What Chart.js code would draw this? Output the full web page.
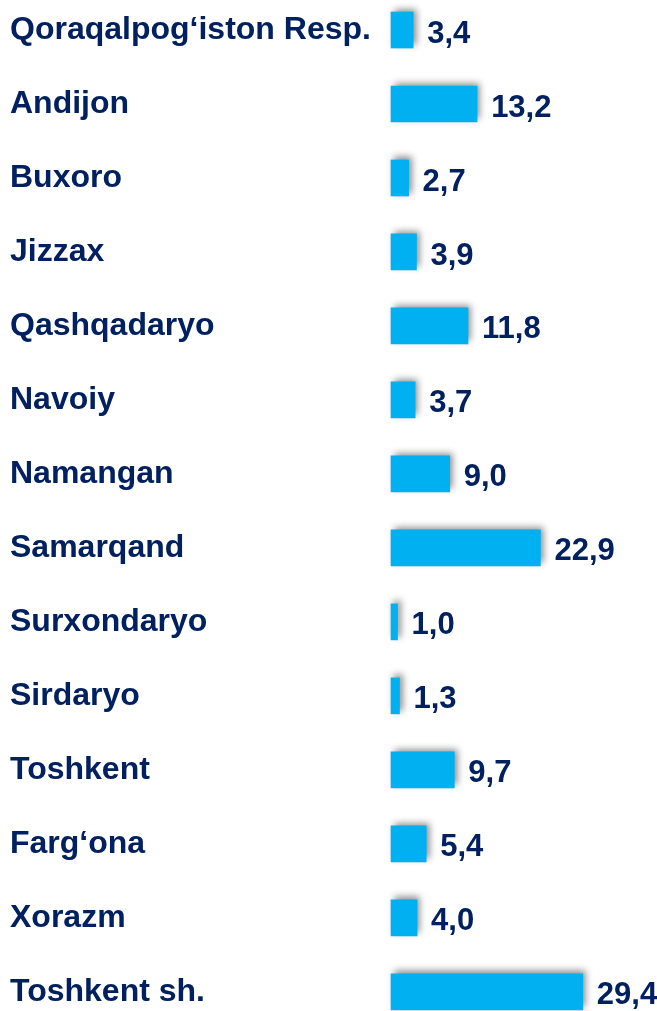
<!DOCTYPE html>
<html lang="uz">
<head>
    <meta charset="UTF-8">
    <title>Hududlar</title>
    <script src="https://cdn.jsdelivr.net/npm/chart.js"></script>
    <style>
        html, body { margin: 0; padding: 0; background: #ffffff; }
        #wrap { width: 657px; height: 1011px; }
    </style>
</head>
<body>
    <div id="wrap"><canvas id="regionChart"></canvas></div>
    <script>
        const regions = [
            'Qoraqalpog‘iston Resp.', 'Andijon', 'Buxoro', 'Jizzax', 'Qashqadaryo',
            'Navoiy', 'Namangan', 'Samarqand', 'Surxondaryo', 'Sirdaryo',
            'Toshkent', 'Farg‘ona', 'Xorazm', 'Toshkent sh.'
        ];
        const shares = [3.4, 13.2, 2.7, 3.9, 11.8, 3.7, 9.0, 22.9, 1.0, 1.3, 9.7, 5.4, 4.0, 29.4];

        const navy = '#002060';
        const fontBold = { family: '"Liberation Sans", Arial, sans-serif', size: 32, weight: 'bold' };

        // drop shadow behind the bars
        const barShadow = {
            id: 'barShadow',
            beforeDatasetDraw(chart) {
                const ctx = chart.ctx;
                ctx.save();
                ctx.shadowColor = 'rgba(0,0,0,0.45)';
                ctx.shadowBlur = 7;
                ctx.shadowOffsetX = 3;
                ctx.shadowOffsetY = -3;
            },
            afterDatasetDraw(chart) {
                chart.ctx.restore();
            }
        };

        // value labels right of each bar, comma as decimal separator
        const valueLabels = {
            id: 'valueLabels',
            afterDatasetsDraw(chart) {
                const ctx = chart.ctx;
                const meta = chart.getDatasetMeta(0);
                ctx.save();
                ctx.font = 'bold 31px "Liberation Sans", Arial, sans-serif';
                ctx.fillStyle = navy;
                ctx.textAlign = 'left';
                ctx.textBaseline = 'middle';
                meta.data.forEach((bar, i) => {
                    const txt = shares[i].toFixed(1).replace('.', ',');
                    ctx.fillText(txt, bar.x + 14, bar.y + 4);
                });
                ctx.restore();
            }
        };

        const ctx = document.getElementById('regionChart').getContext('2d');
        new Chart(ctx, {
            type: 'bar',
            data: {
                labels: regions,
                datasets: [{
                    data: shares,
                    backgroundColor: '#00B0F0',
                    borderWidth: 0,
                    barThickness: 36,
                    clip: false
                }]
            },
            options: {
                indexAxis: 'y',
                responsive: true,
                maintainAspectRatio: false,
                animation: false,
                layout: { padding: { left: 10, right: 5, top: 30, bottom: 15 } },
                plugins: {
                    legend: { display: false },
                    tooltip: { enabled: false }
                },
                scales: {
                    x: {
                        display: false,
                        min: 0,
                        max: 40
                    },
                    y: {
                        offset: false,
                        grid: { display: false },
                        border: { display: false },
                        afterFit(scale) { scale.width = 381; },
                        ticks: {
                            crossAlign: 'far',
                            color: navy,
                            font: fontBold,
                            padding: 0
                        }
                    }
                }
            },
            plugins: [barShadow, valueLabels]
        });
    </script>
</body>
</html>
